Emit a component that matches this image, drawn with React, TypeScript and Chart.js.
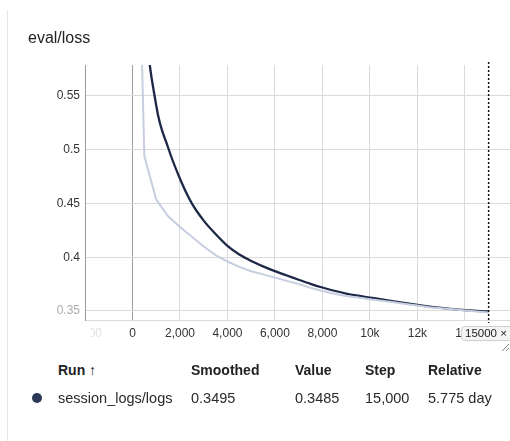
import React, { useEffect, useRef } from "react";
import { Chart, registerables } from "chart.js";

Chart.register(...registerables);

const chartTitle = "eval/loss";
const steps = [
  0, 500, 1000, 1500, 2000, 2500, 3000, 3500, 4000, 4500, 5000, 5500, 6000,
  6500, 7000, 7500, 8000, 8500, 9000, 9500, 10000, 10500, 11000, 11500, 12000,
  12500, 13000, 13500, 14000, 14500, 15000,
];
const rawLoss = [
  0.93, 0.494, 0.4535, 0.438, 0.428, 0.419, 0.41, 0.402, 0.396, 0.391, 0.387,
  0.384, 0.381, 0.378, 0.375, 0.3715, 0.3685, 0.366, 0.364, 0.3625, 0.361,
  0.3595, 0.358, 0.3565, 0.355, 0.3535, 0.3525, 0.3515, 0.3505, 0.3495, 0.3485,
];
const smoothedLoss = [
  0.93, 0.64, 0.541, 0.502, 0.473, 0.45, 0.434, 0.4215, 0.4105, 0.4025, 0.3965,
  0.3915, 0.387, 0.383, 0.379, 0.3752, 0.3718, 0.3688, 0.3662, 0.3642, 0.3625,
  0.3607, 0.359, 0.3572, 0.3556, 0.3541, 0.3528, 0.3517, 0.3508, 0.3501, 0.3495,
];
const xTickValues = [-2000, 0, 2000, 4000, 6000, 8000, 10000, 12000, 14000];
const xTickLabels = ["-2,000", "0", "2,000", "4,000", "6,000", "8,000", "10k", "12k", "14k"];
const yTickValues = [0.35, 0.4, 0.45, 0.5, 0.55];
const yTickLabels = ["0.35", "0.4", "0.45", "0.5", "0.55"];
const hoverStep = 15000;
const hoverLabel = "15000 ×";
const tableHeaders = ["Run ↑", "Smoothed", "Value", "Step", "Relative"];
const tableRow = ["session_logs/logs", "0.3495", "0.3485", "15,000", "5.775 day"];

const FONT = '"Liberation Sans", Arial, sans-serif';
const DARK = "#1c2846";
const LIGHT = "#c6cee0";

const colLeft = [58, 191, 295, 365, 428];

export default function App() {
  const canvasRef = useRef<HTMLCanvasElement | null>(null);

  useEffect(() => {
    const canvas = canvasRef.current;
    if (!canvas) return;
    const hoverPlugin = {
      id: "hoverLine",
      afterDatasetsDraw(chart: any) {
        const { ctx, chartArea, scales } = chart;
        const x = scales.x.getPixelForValue(hoverStep);
        ctx.save();
        ctx.setLineDash([2, 2]);
        ctx.strokeStyle = "#111";
        ctx.lineWidth = 1.5;
        ctx.beginPath();
        ctx.moveTo(x, chartArea.top - 3);
        ctx.lineTo(x, chartArea.bottom + 3);
        ctx.stroke();
        ctx.restore();
      },
    };
    const chart = new Chart(canvas, {
      type: "line",
      data: {
        datasets: [
          {
            data: steps.map((s, i) => ({ x: s, y: rawLoss[i] })),
            borderColor: LIGHT,
            borderWidth: 2,
            pointRadius: 0,
            tension: 0,
          },
          {
            data: steps.map((s, i) => ({ x: s, y: smoothedLoss[i] })),
            borderColor: DARK,
            borderWidth: 2.3,
            pointRadius: 0,
            cubicInterpolationMode: "monotone",
          },
        ],
      },
      options: {
        responsive: false,
        animation: false,
        events: [],
        layout: { padding: { top: 65, left: 0, right: 0, bottom: 0 } },
        plugins: { legend: { display: false }, tooltip: { enabled: false } },
        scales: {
          x: {
            type: "linear",
            min: -2000,
            max: 15900,
            afterBuildTicks: (s: any) => {
              s.ticks = xTickValues.map((v) => ({ value: v }));
            },
            afterFit: (s: any) => {
              s.height = 25;
            },
            ticks: {
              autoSkip: false,
              maxRotation: 0,
              padding: 6,
              font: { family: FONT, size: 12 },
              color: (c: any) => (c.tick && c.tick.value < 0 ? "#e2e2e2" : "#333"),
              callback: (v: any) => {
                const i = xTickValues.indexOf(Number(v));
                return i >= 0 ? xTickLabels[i] : "";
              },
            },
            grid: {
              drawTicks: false,
              color: (c: any) => (c.tick && c.tick.value === 0 ? "#9a9a9a" : "#dadada"),
              lineWidth: 1,
            },
            border: { display: true, color: "#dadada" },
          },
          y: {
            type: "linear",
            min: 0.3416,
            max: 0.5787,
            afterBuildTicks: (s: any) => {
              s.ticks = yTickValues.map((v) => ({ value: v }));
            },
            afterFit: (s: any) => {
              s.width = 85;
            },
            ticks: {
              padding: 5,
              font: { family: FONT, size: 12 },
              color: (c: any) => (c.tick && c.tick.value < 0.36 ? "#aaa" : "#333"),
              callback: (v: any) => {
                const i = yTickValues.findIndex((t) => Math.abs(t - Number(v)) < 1e-9);
                return i >= 0 ? yTickLabels[i] : "";
              },
            },
            grid: { drawTicks: false, color: "#dadada", lineWidth: 1 },
            border: { display: true, color: "#9a9a9a" },
          },
        },
      },
      plugins: [hoverPlugin],
    } as any);
    return () => chart.destroy();
  }, []);

  return (
    <div
      style={{
        position: "fixed",
        left: 0,
        top: 0,
        width: 510,
        height: 441,
        overflow: "hidden",
        background: "#fff",
        fontFamily: FONT,
        color: "#222",
      }}
    >
      <canvas
        ref={canvasRef}
        width={510}
        height={345}
        style={{ position: "absolute", left: 0, top: 0, width: 510, height: 345 }}
      />
      <div
        style={{
          position: "absolute",
          left: 60,
          top: 322,
          width: 31,
          height: 20,
          background: "#fff",
        }}
      />
      <div
        style={{
          position: "absolute",
          left: 7,
          top: 10,
          width: 1,
          height: 431,
          background: "#e6e6e6",
        }}
      />
      <div
        style={{
          position: "absolute",
          left: 28,
          top: 29,
          fontSize: 16,
          lineHeight: "18px",
          color: "#222",
        }}
      >
        {chartTitle}
      </div>
      <div
        style={{
          position: "absolute",
          left: 461,
          top: 326,
          width: 60,
          height: 13,
          border: "1px solid #cfcfcf",
          borderRadius: 4,
          background: "#f4f4f4",
          fontSize: 11.5,
          lineHeight: "13px",
          paddingLeft: 3,
          color: "#222",
          whiteSpace: "nowrap",
        }}
      >
        {hoverLabel}
      </div>
      <svg
        width={10}
        height={10}
        style={{ position: "absolute", left: 500, top: 342 }}
      >
        <line x1={2} y1={9} x2={9} y2={2} stroke="#888" strokeWidth={1} />
        <line x1={6} y1={9} x2={9} y2={6} stroke="#888" strokeWidth={1} />
      </svg>
      {tableHeaders.map((h, i) => (
        <div
          key={"h" + i}
          style={{
            position: "absolute",
            left: colLeft[i],
            top: 362,
            fontSize: 14,
            fontWeight: "bold",
            lineHeight: "16px",
            whiteSpace: "nowrap",
          }}
        >
          {h}
        </div>
      ))}
      <div
        style={{
          position: "absolute",
          left: 32,
          top: 393,
          width: 10,
          height: 10,
          borderRadius: "50%",
          background: "#2a3856",
        }}
      />
      {tableRow.map((t, i) => (
        <div
          key={"r" + i}
          style={{
            position: "absolute",
            left: colLeft[i],
            top: 390,
            fontSize: 14.5,
            lineHeight: "16px",
            whiteSpace: "nowrap",
            color: "#2a2a2a",
          }}
        >
          {t}
        </div>
      ))}
    </div>
  );
}
